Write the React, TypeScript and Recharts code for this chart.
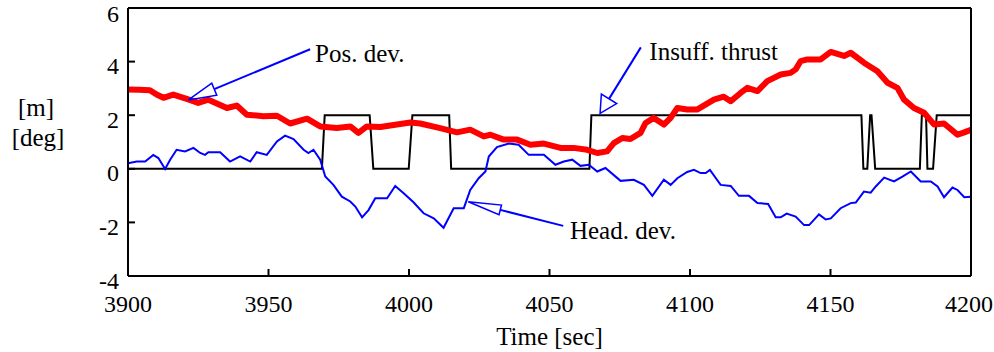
import React from 'react';
import {
  LineChart,
  Line,
  XAxis,
  YAxis,
  ReferenceLine,
} from 'recharts';

// thruster saturation flag (0 = ok, 2 = insufficient thrust)
const thrustTime = [
  3900, 3969, 3970, 3986, 3987.3, 3999.9, 4001.2, 4014.3, 4015, 4064.2, 4064.9,
  4161, 4161.7, 4163.1, 4164.1, 4164.6, 4165.9, 4181.8, 4182.5, 4184, 4184.5,
  4186.5, 4187.8, 4200,
];
const thrustValue = [
  0, 0, 2, 2, 0, 0, 2, 2, 0, 0, 2, 2, 0, 0, 2, 2, 0, 0, 2, 2, 0, 0, 2, 2,
];

// position deviation [m]
const posTime = [
  3900, 3904, 3907.8, 3910.2, 3912.6, 3916.1, 3920.9, 3925, 3928.6, 3935.2,
  3938.7, 3942.3, 3948.2, 3953, 3957.7, 3963.7, 3968.4, 3974.3, 3979.1, 3982,
  3985, 3989.8, 3995.7, 4000.5, 4004, 4011.1, 4017.1, 4021.8, 4026.6, 4029,
  4033.7, 4038.5, 4043.2, 4048, 4053.9, 4058.6, 4063.4, 4067, 4070.5, 4072.9,
  4075.9, 4078.8, 4082.4, 4084.2, 4087.1, 4090.7, 4093.1, 4095.5, 4099, 4102.5,
  4108.5, 4112, 4114.5, 4118, 4120.4, 4124, 4127.5, 4132.3, 4135.8, 4137.6,
  4139.4, 4141.7, 4146.5, 4150.1, 4154.8, 4157.2, 4161.9, 4166.7, 4170.3,
  4173.8, 4176.2, 4179.7, 4183.3, 4186.9, 4190.4, 4195.2, 4197.6, 4200,
];
const posValue = [
  2.96, 2.95, 2.93, 2.77, 2.65, 2.77, 2.61, 2.46, 2.58, 2.27,
  2.36, 2.02, 1.96, 1.98, 1.69, 1.87, 1.58, 1.52, 1.58, 1.34,
  1.58, 1.56, 1.65, 1.73, 1.69, 1.52, 1.36, 1.46, 1.21, 1.27,
  1.09, 1.09, 0.9, 0.94, 0.78, 0.78, 0.71, 0.59, 0.65, 0.96,
  1.15, 1.11, 1.34, 1.71, 1.9, 1.65, 1.9, 2.27, 2.21, 2.21,
  2.58, 2.69, 2.52, 2.83, 3.02, 2.9, 3.27, 3.52, 3.58, 3.71,
  4.02, 4.08, 4.08, 4.36, 4.21, 4.33, 3.96, 3.64, 3.21,
  3.02, 2.58, 2.27, 2.09, 1.65, 1.69, 1.27, 1.36, 1.46,
];

// heading deviation [deg]
const headTime = [
  3900, 3903.1, 3906.1, 3909, 3910.8, 3913.2, 3915, 3917.3, 3920.3, 3923.3,
  3925.7, 3927.4, 3928.6, 3932.8, 3936.3, 3939.9, 3943.5, 3945.8, 3949.4, 3953,
  3955.9, 3958.9, 3962.5, 3964.2, 3966, 3968.4, 3970.2, 3973.1, 3976.1, 3979.1,
  3980.9, 3983.3, 3985.6, 3988, 3992.2, 3995.1, 3998.1, 4001.6, 4005.2, 4008.8,
  4012.3, 4015.9, 4019.5, 4021.8, 4024.8, 4027.2, 4028.4, 4031.3, 4035.5, 4039,
  4042.6, 4048, 4052.1, 4055.1, 4058.1, 4061, 4064, 4067, 4069.9, 4075.3,
  4080, 4083.6, 4086.6, 4090.7, 4093.1, 4095.5, 4099, 4101.4, 4103.8, 4105.6,
  4107.1, 4110.9, 4114.5, 4117.4, 4121, 4124, 4127.8, 4130.5, 4132.3, 4134.4,
  4137.6, 4140.6, 4142.4, 4145.9, 4148.3, 4150.1, 4153.6, 4157.2, 4159, 4161.9,
  4164.3, 4166.1, 4169.1, 4172.6, 4175.6, 4178.6, 4182.1, 4185.7, 4188.1, 4190.4,
  4193.4, 4195.2, 4197.6, 4200,
];
const headValue = [
  0.21, 0.27, 0.27, 0.52, 0.4, -0.01, 0.34, 0.71, 0.65, 0.78,
  0.59, 0.52, 0.62, 0.62, 0.27, 0.46, 0.27, 0.62, 0.52, 1.02,
  1.24, 1.11, 0.71, 0.59, 0.71, 0.34, -0.29, -0.6, -1.04, -1.22,
  -1.41, -1.81, -1.54, -1.1, -1.1, -0.64, -0.91, -1.25, -1.66, -1.85,
  -2.2, -1.47, -1.47, -0.79, -0.35, -0.1, 0.46, 0.81, 0.94, 0.9,
  0.52, 0.52, 0.15, 0.27, 0.34, 0.11, 0.15, -0.1, 0.03, -0.45,
  -0.41, -0.6, -1.01, -0.41, -0.6, -0.35, -0.12, -0.04, -0.16, -0.16,
  -0.04, -0.6, -0.64, -1.01, -1.01, -1.28, -1.31, -1.81, -1.81, -1.67,
  -1.78, -2.1, -2.1, -1.7, -1.89, -1.85, -1.47, -1.28, -1.26, -0.85,
  -0.89, -0.66, -0.33, -0.47, -0.29, -0.1, -0.47, -0.47, -0.66, -1.06,
  -0.7, -0.79, -1.06, -1.04,
];

const xTicks = [3900, 3950, 4000, 4050, 4100, 4150, 4200];
const yTicks = [-4, -2, 0, 2, 4, 6];

// annotation anchors: [label end, arrow tip] in data units
const posArrow = [{ x: 3964.8, y: 4.46 }, { x: 3921.5, y: 2.57 }];
const thrustArrow = [{ x: 4082.5, y: 4.53 }, { x: 4068.0, y: 2.07 }];
const headArrow = [{ x: 4054.9, y: -2.13 }, { x: 4021.1, y: -1.23 }];

const toPoints = (xs: number[], ys: number[]) => xs.map((t, i) => ({ t, v: ys[i] }));

const thrustData = toPoints(thrustTime, thrustValue);
const posData = toPoints(posTime, posValue);
const headData = toPoints(headTime, headValue);

const WIDTH = 994;
const HEIGHT = 352;
const FONT = '"Liberation Serif", "Times New Roman", serif';
const BLUE = '#0000ff';

const textStyle = { fontFamily: FONT, fontSize: 25, fill: '#000' };
const tickStyle = { fontFamily: FONT, fontSize: 24, fill: '#000' };

function XTick({ x, y, payload }: any) {
  // keep the last label inside the svg edge
  const half = String(payload.value).length * 6;
  const cx = Math.min(x, WIDTH - 1 - half);
  return (
    <text x={cx} y={y} dy="0.71em" textAnchor="middle" style={tickStyle}>
      {payload.value}
    </text>
  );
}

function YTick({ x, y, payload }: any) {
  return (
    <text x={x} y={y + 4} dy="0.355em" textAnchor="end" style={tickStyle}>
      {payload.value}
    </text>
  );
}

function makeArrow(text: string, tdx: number, tdy: number, headLen: number, headHalf: number) {
  return (p: any) => {
    const { x1, y1, x2, y2 } = p;
    const dx = x1 - x2;
    const dy = y1 - y2;
    const len = Math.hypot(dx, dy) || 1;
    const ux = dx / len;
    const uy = dy / len;
    const bx = x2 + ux * headLen;
    const by = y2 + uy * headLen;
    const px = -uy * headHalf;
    const py = ux * headHalf;
    return (
      <g>
        <line x1={x1} y1={y1} x2={bx} y2={by} stroke={BLUE} strokeWidth={2} />
        <polygon
          points={`${x2},${y2} ${bx + px},${by + py} ${bx - px},${by - py}`}
          fill="none"
          stroke={BLUE}
          strokeWidth={1.5}
        />
        <text x={x1 + tdx} y={y1 + tdy} style={textStyle}>
          {text}
        </text>
      </g>
    );
  };
}

function UnitLabel() {
  return (
    <g>
      <text x={36} y={116} textAnchor="middle" style={textStyle}>[m]</text>
      <text x={38} y={146} textAnchor="middle" style={textStyle}>[deg]</text>
    </g>
  );
}

function TimeLabel({ viewBox }: any) {
  const cx = viewBox.x + viewBox.width / 2;
  return (
    <text x={cx} y={345} textAnchor="middle" style={textStyle}>
      Time [sec]
    </text>
  );
}

const axisLine = { stroke: '#000', strokeWidth: 2 };
const tickLine = { stroke: '#000', strokeWidth: 2 };

export default function App() {
  return (
    <div style={{ position: 'absolute', left: 0, top: 0, background: '#fff' }}>
      <LineChart width={WIDTH} height={HEIGHT} margin={{ top: 0, right: 0, bottom: 0, left: 0 }}>
        <XAxis
          dataKey="t"
          type="number"
          domain={[3900, 4200]}
          ticks={xTicks}
          allowDataOverflow
          height={76}
          axisLine={axisLine}
          tickLine={tickLine}
          tickSize={-7}
          tickMargin={26}
          tick={<XTick />}
          label={<TimeLabel />}
        />
        <XAxis
          xAxisId="top"
          orientation="top"
          dataKey="t"
          type="number"
          domain={[3900, 4200]}
          ticks={xTicks}
          allowDataOverflow
          height={8}
          axisLine={axisLine}
          tickLine={tickLine}
          tickSize={-7}
          tick={false}
        />
        <YAxis
          type="number"
          domain={[-4, 6]}
          ticks={yTicks}
          allowDataOverflow
          width={128}
          axisLine={axisLine}
          tickLine={tickLine}
          tickSize={-7}
          tickMargin={16}
          tick={<YTick />}
          label={<UnitLabel />}
        />
        <YAxis
          yAxisId="right"
          orientation="right"
          type="number"
          domain={[-4, 6]}
          ticks={yTicks}
          allowDataOverflow
          width={23}
          axisLine={axisLine}
          tickLine={tickLine}
          tickSize={-7}
          tick={false}
        />
        <Line
          data={thrustData}
          dataKey="v"
          type="linear"
          stroke="#000"
          strokeWidth={2}
          dot={false}
          isAnimationActive={false}
        />
        <Line
          data={headData}
          dataKey="v"
          type="linear"
          stroke={BLUE}
          strokeWidth={2}
          dot={false}
          isAnimationActive={false}
        />
        <Line
          data={posData}
          dataKey="v"
          type="linear"
          stroke="#ff0000"
          strokeWidth={6}
          strokeLinecap="round"
          strokeLinejoin="round"
          dot={false}
          isAnimationActive={false}
        />
        <ReferenceLine
          segment={posArrow}
          ifOverflow="visible"
          shape={makeArrow('Pos. dev.', 5, 12.5, 28, 6.5)}
        />
        <ReferenceLine
          segment={thrustArrow}
          ifOverflow="visible"
          shape={makeArrow('Insuff. thrust', 8.5, 12.5, 17, 9)}
        />
        <ReferenceLine
          segment={headArrow}
          ifOverflow="visible"
          shape={makeArrow('Head. dev.', 6.7, 13, 33, 5)}
        />
      </LineChart>
    </div>
  );
}
